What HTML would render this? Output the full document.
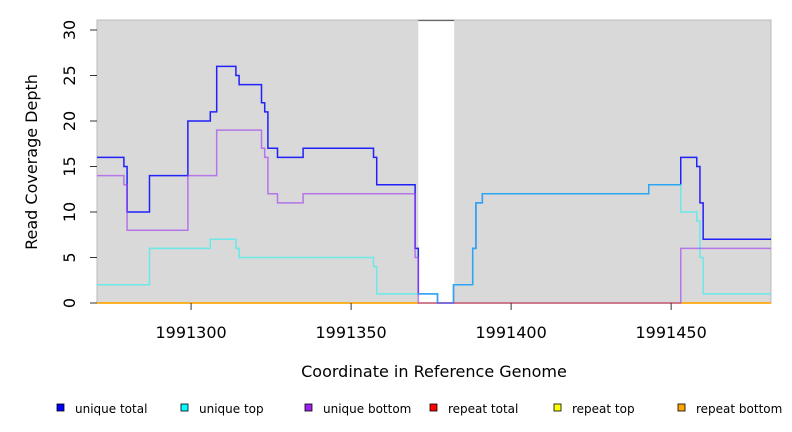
<!DOCTYPE html>
<html><head><meta charset="utf-8"><style>
body{margin:0;background:#fff;}
svg{display:block;font-family:"DejaVu Sans","Liberation Sans",sans-serif;}
</style></head><body>
<svg id="chart" width="792" height="432" viewBox="0 0 792 432">
<rect x="97" y="20" width="674" height="283" fill="#d9d9d9" stroke="#bbbbbb"/>
<g id="gaps"></g>
<g id="lines"></g>
<g id="axes"></g>
<text x="434" y="377" font-size="16" text-anchor="middle" fill="#000">Coordinate in Reference Genome</text>
<text transform="translate(37,162) rotate(-90)" font-size="16" text-anchor="middle" fill="#000">Read Coverage Depth</text>
<g id="legend"></g>
</svg>
<script>
const NS="http://www.w3.org/2000/svg";
const xTicks=[1991300,1991350,1991400,1991450];
const yTicks=[0,5,10,15,20,25,30];
const gapRegion=[1991371,1991382.2];
const totalX=[1991270,1991279,1991280,1991287,1991299,1991306,1991308,1991314,1991315,1991322,1991323,1991324,1991327,1991335,1991357,1991358,1991370,1991371,1991377,1991382,1991388,1991389,1991391,1991443,1991453,1991458,1991459,1991460,1991482];
const totalY=[16,15,10,14,20,21,26,25,24,22,21,17,16,17,16,13,6,1,0,2,6,11,12,13,16,15,11,7];
const topX=[1991270,1991287,1991306,1991314,1991315,1991357,1991358,1991377,1991382,1991388,1991389,1991391,1991443,1991453,1991458,1991459,1991460,1991482];
const topY=[2,6,7,6,5,4,1,0,2,6,11,12,13,10,9,5,1];
const bottomX=[1991270,1991279,1991280,1991299,1991308,1991322,1991323,1991324,1991327,1991335,1991370,1991371,1991453,1991482];
const bottomY=[14,13,8,14,19,17,16,12,11,12,5,0,6];
const repeatX=[1991270,1991482];
const repeatY=[0];
const xmin=1991270.6,xmax=1991481.2,ymin=0,ymax=30;
const X=v=>97+(v-xmin)/(xmax-xmin)*674;
const Y=v=>303-(v-ymin)/(ymax-ymin)*(303-30);
function el(tag,attrs,parent){const e=document.createElementNS(NS,tag);for(const k in attrs)e.setAttribute(k,attrs[k]);parent.appendChild(e);return e;}
const gaps=document.getElementById('gaps');
const g=el('rect',{x:X(gapRegion[0]),y:20,width:X(gapRegion[1])-X(gapRegion[0]),height:283,fill:'#fff'},gaps);


const gl=el('line',{x1:X(gapRegion[0]),x2:X(gapRegion[1]),y1:20.5,y2:20.5,stroke:'#666','stroke-width':1.2},gaps);


function stepPath(xs,ys){
  let clip=v=>Math.max(xmin,Math.min(xmax,v));
  let d='M'+X(clip(xs[0]))+','+Y(ys[0]);
  for(let i=0;i<ys.length;i++){
    d+=' L'+X(clip(xs[i+1]))+','+Y(ys[i]);
    if(i+1<ys.length) d+=' L'+X(clip(xs[i+1]))+','+Y(ys[i+1]);
  }
  return d;
}
const lines=document.getElementById('lines');
const series=[
 ['repeat-total-line',repeatX,repeatY,'#ff0000',0.65],
 ['repeat-top-line',repeatX,repeatY,'#ffff00',0.65],
 ['repeat-bottom-line',repeatX,repeatY,'#ffa500',0.65],
 ['unique-total-line',totalX,totalY,'#0000ff',0.85],
 ['unique-top-line',topX,topY,'#30f0f0',0.65],
 ['unique-bottom-line',bottomX,bottomY,'#a040f0',0.65],
];
series.forEach(s=>{
  const p=el('path',{d:stepPath(s[1],s[2]),fill:'none',stroke:s[3],'stroke-width':1.5,'stroke-opacity':s[4]},lines);
  
  
});
const axes=document.getElementById('axes');
yTicks.forEach(t=>{
  const l=el('line',{x1:90,x2:97,y1:Y(t),y2:Y(t),stroke:'#333'},axes);
  
  
  const tx=el('text',{transform:`translate(75,${Y(t)}) rotate(-90)`,'font-size':16,'text-anchor':'middle',fill:'#000'},axes);
  tx.textContent=t;
  
  
});
xTicks.forEach(t=>{
  const l=el('line',{x1:X(t),x2:X(t),y1:303,y2:310,stroke:'#333'},axes);
  
  
  const tx=el('text',{x:X(t),y:338,'font-size':16,'text-anchor':'middle',fill:'#000'},axes);
  tx.textContent=t;
  
  
});
const legendLabels=['unique total','unique top','unique bottom','repeat total','repeat top','repeat bottom'];
const legendColors=['#0000ff','#00ffff','#a020f0','#ff0000','#ffff00','#ffa500'];
const legendPos=[57,181,305,430,554,678];
const lg=document.getElementById('legend');
legendLabels.forEach((lab,i)=>{
  const r=el('rect',{x:legendPos[i],y:404,width:7,height:7,fill:legendColors[i],stroke:'#000','stroke-width':0.8},lg);
  
  
  const t=el('text',{x:legendPos[i]+18,y:413,'font-size':12,fill:'#000'},lg);
  t.textContent=lab;
  
  
});
</script>
</body></html>
